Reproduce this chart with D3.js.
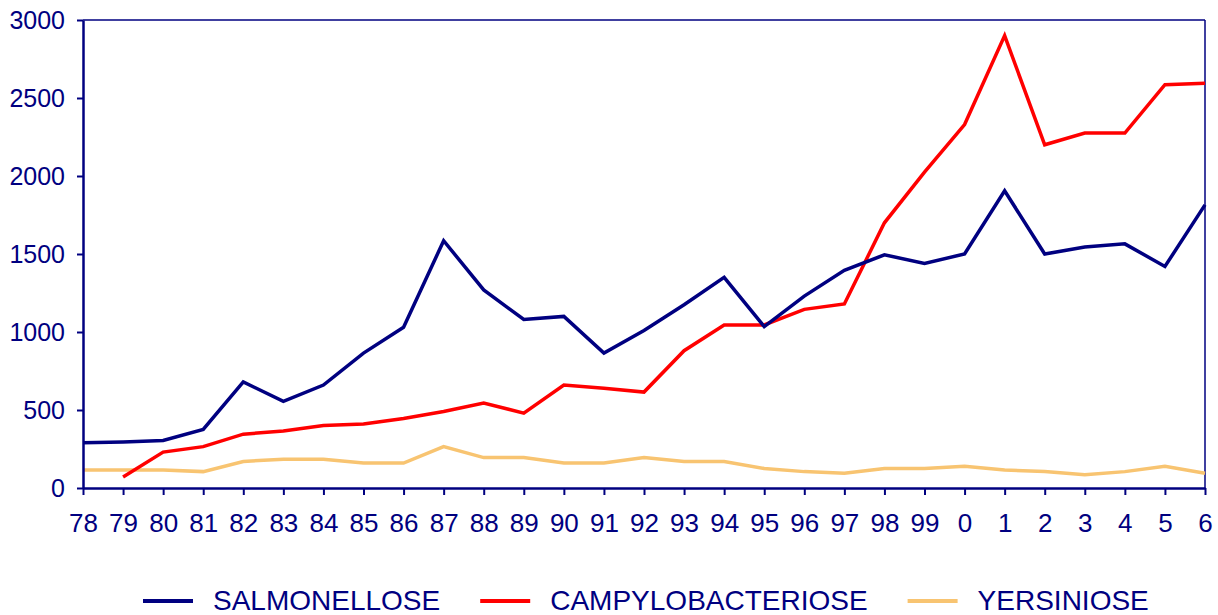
<!DOCTYPE html>
<html>
<head>
<meta charset="utf-8">
<script src="https://cdn.jsdelivr.net/npm/d3@7"></script>
<style>
  body { margin: 0; background: #fff; }
  svg { display: block; font-family: "Liberation Sans", Arial, sans-serif; }
</style>
</head>
<body>
<div id="chart"></div>
<script>
var years = ["78","79","80","81","82","83","84","85","86","87","88","89","90","91","92","93","94","95","96","97","98","99","0","1","2","3","4","5","6"];

var salmonellose = [290,295,305,375,680,555,660,865,1030,1585,1270,1080,1100,865,1010,1175,1350,1035,1230,1395,1495,1440,1500,1905,1500,1545,1565,1420,1815];
var campylobacteriose = [null,70,230,265,345,365,400,410,445,490,545,480,660,640,615,880,1045,1045,1145,1180,1700,2025,2330,2900,2200,2275,2275,2585,2595];
var yersiniose = [115,115,115,105,170,185,185,160,160,265,195,195,160,160,195,170,170,125,105,95,125,125,140,115,105,85,105,140,95];

var y_ticks = [0,500,1000,1500,2000,2500,3000];

var series_names = ["SALMONELLOSE", "CAMPYLOBACTERIOSE", "YERSINIOSE"];
var series_colors = ["#000080", "#ff0000", "#f8c471"];
var series_values = [salmonellose, campylobacteriose, yersiniose];

var width = 1218, height = 615;
var plot_left = 83, plot_right = 1205, plot_top = 20, plot_bottom = 488;
var axis_color = "#000080";

var svg = d3.select("#chart").append("svg")
    .attr("width", width)
    .attr("height", height);

var x = d3.scalePoint().domain(years).range([plot_left, plot_right]);
var y = d3.scaleLinear().domain([0, 3000]).range([plot_bottom, plot_top]);

// thin frame on top and right
svg.append("line")
    .attr("x1", plot_left).attr("x2", plot_right)
    .attr("y1", plot_top).attr("y2", plot_top)
    .attr("stroke", axis_color).attr("stroke-width", 1.5);
svg.append("line")
    .attr("x1", plot_right).attr("x2", plot_right)
    .attr("y1", plot_top).attr("y2", plot_bottom)
    .attr("stroke", axis_color).attr("stroke-width", 1.5);

// series
var line = d3.line()
    .defined(function(d) { return d != null; })
    .x(function(d, i) { return x(years[i]); })
    .y(function(d) { return y(d); });

for (let s = series_values.length - 1; s >= 0; s--) {
    svg.append("path")
        .datum(series_values[s])
        .attr("d", line)
        .attr("fill", "none")
        .attr("stroke", series_colors[s])
        .attr("stroke-width", 3.5)
        .attr("stroke-linejoin", "miter");
}

// axes
var gx = svg.append("g")
    .attr("transform", "translate(0," + plot_bottom + ")")
    .call(d3.axisBottom(x).tickSize(7).tickSizeOuter(0));
gx.selectAll("text").attr("y", 44).attr("dy", 0).style("font-size", "26px");

var gy = svg.append("g")
    .attr("transform", "translate(" + plot_left + ",0)")
    .call(d3.axisLeft(y).tickValues(y_ticks).tickFormat(d3.format("d")).tickSize(6).tickSizeOuter(0));
gy.selectAll("text").attr("x", -18).attr("dy", "0.33em").style("font-size", "25px");

svg.selectAll(".domain").attr("stroke", axis_color).attr("stroke-width", 2.5);
svg.selectAll(".tick line").attr("stroke", axis_color).attr("stroke-width", 2);
svg.selectAll(".tick text")
    .attr("fill", axis_color)
    .style("font-family", "'Liberation Sans', Arial, sans-serif");

// legend
var lx = 143, ly = 601;
for (let s = 0; s < series_names.length; s++) {
    svg.append("line")
        .attr("x1", lx).attr("x2", lx + 50)
        .attr("y1", ly).attr("y2", ly)
        .attr("stroke", series_colors[s])
        .attr("stroke-width", 4);
    let t = svg.append("text")
        .attr("x", lx + 70)
        .attr("y", ly + 9)
        .attr("fill", axis_color)
        .style("font-size", "28px")
        .text(series_names[s]);
    lx = lx + 70 + t.node().getComputedTextLength() + 40;
}
</script>
</body>
</html>
